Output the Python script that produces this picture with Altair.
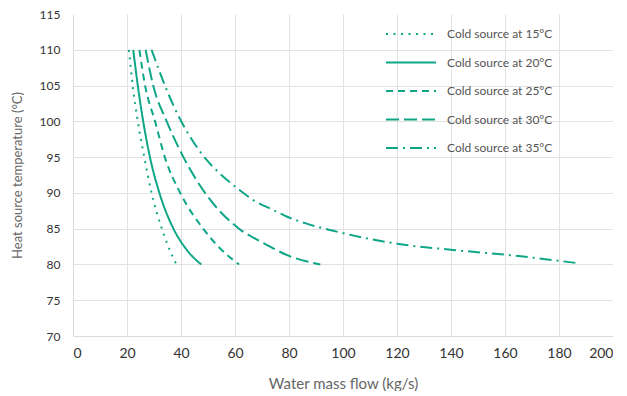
import altair as alt
import pandas as pd

names = ["Cold source at 15°C", "Cold source at 20°C", "Cold source at 25°C",
         "Cold source at 30°C", "Cold source at 35°C"]

x15 = [20.7, 22.1, 24.0, 26.4, 29.1, 32.9, 35.3, 38.3]
y15 = [110, 105, 100, 95, 90, 85, 82.5, 80]
x20 = [22.3, 24.0, 26.0, 28.5, 32.0, 37.2, 41.8, 47.5]
y20 = [110, 105, 100, 95, 90, 85, 82.2, 80]
x25 = [24.6, 26.7, 30.4, 34.0, 39.7, 48.2, 53.8, 61.5]
y25 = [110, 105, 100, 95, 90, 85, 82.5, 80]
x30 = [26.9, 29.7, 34.7, 40.9, 48.9, 61.5, 70.0, 80.0, 91.6]
y30 = [110, 105, 100, 95, 90, 85, 83.1, 81.2, 80]
x35 = [29.1, 34.7, 37.1, 43.6, 49.5, 54.4, 60.0, 66.8, 74.2, 79.1, 86.5, 96.4,
       120.0, 141.6, 161.9, 186.5]
y35 = [110, 104.4, 102.3, 97.7, 94.6, 92.7, 90.9, 89.0, 87.6, 86.7, 85.7, 84.7,
       82.9, 82.0, 81.3, 80.2]

x_ticks = list(range(0, 201, 20))
y_ticks = list(range(70, 116, 5))

rows = []
for name, xs, ys in zip(names, [x15, x20, x25, x30, x35], [y15, y20, y25, y30, y35]):
    for x, y in zip(xs, ys):
        rows.append({"series": name, "flow": x, "temp": y})
df = pd.DataFrame(rows)

teal = "#0fa688"
grid = "#e2e2e2"
dashes = [[2, 5.5], [1, 0], [7, 5], [13, 5], [12, 5, 2, 5]]
font = "Lato"

chart = alt.Chart(df).mark_line(interpolate="monotone", strokeWidth=2, color=teal).encode(
    x=alt.X("flow:Q", scale=alt.Scale(domain=[0, 200], nice=False),
            axis=alt.Axis(values=x_ticks, title="Water mass flow (kg/s)", labelPadding=10,
                          labelFontSize=14, titleFontSize=15, titlePadding=16,
                          minExtent=24, maxExtent=24,
                          gridColor={"condition": {"test": "datum.value >= 200 || datum.value <= 0",
                                                   "value": "transparent"}, "value": grid})),
    y=alt.Y("temp:Q", scale=alt.Scale(domain=[70, 115], nice=False),
            axis=alt.Axis(values=y_ticks, title="Heat source temperature (°C)", labelPadding=13,
                          labelFontSize=12, titleFontSize=13, titlePadding=16,
                          minExtent=33, maxExtent=33,
                          gridColor={"condition": {"test": "datum.value >= 115 || datum.value <= 70",
                                                   "value": "transparent"}, "value": grid})),
    strokeDash=alt.StrokeDash("series:N", scale=alt.Scale(domain=names, range=dashes),
                              legend=alt.Legend(orient="none", legendX=312, legendY=6, title=None,
                                                symbolType="stroke", symbolSize=2500,
                                                symbolStrokeWidth=2, symbolStrokeColor=teal,
                                                labelFont=font, labelFontSize=12, labelColor="#555",
                                                labelOffset=10, clipHeight=28, rowPadding=0.5)),
    order="flow:Q",
).properties(width=540, height=322, padding={"left": 3, "top": 0, "right": 0, "bottom": 0}
).configure_view(stroke=None).configure_axis(
    domainColor="#dcdcdc", ticks=False, labelColor="#333", labelFont=font,
    titleColor="#666", titleFont=font, titleFontWeight="normal",
)

chart.save("out.html", embed_options={"renderer": "svg", "actions": False})
